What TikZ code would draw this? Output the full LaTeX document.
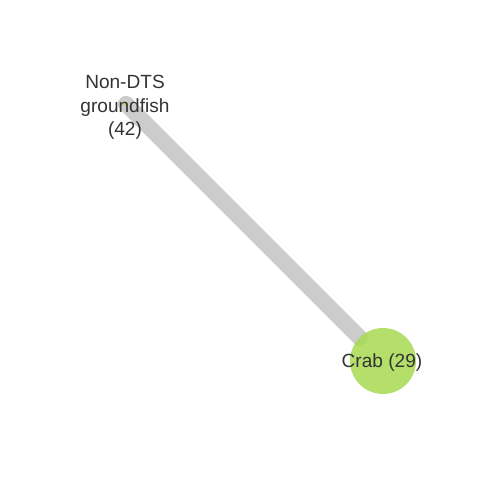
\documentclass[tikz,border=0pt]{standalone}
\usepackage{fontspec}
\setmainfont{Liberation Sans}
\usetikzlibrary{backgrounds}
\definecolor{CrabGreen}{RGB}{166,217,80}
\definecolor{EdgeGray}{RGB}{204,204,204}
\definecolor{LabelGray}{RGB}{51,51,51}
\tikzset{
  vertex/.style={circle,fill=CrabGreen,fill opacity=0.85,inner sep=0pt},
  vlabel/.style={text=LabelGray,font=\fontsize{11.3}{14}\selectfont,align=center,inner sep=0pt},
  link/.style={EdgeGray,line width=9.6pt,line cap=round}
}

\begin{document}
\begin{tikzpicture}[x=0.020833cm,y=-0.020833cm]
  \useasboundingbox (0,0) rectangle (480,480);
  % vertices
  \node[vertex,minimum size=2.5] (groundfish) at (126,104) {};
  \node[vertex,minimum size=1.375cm] (crab) at (383,361) {};
  % edge below the vertices
  \begin{scope}[on background layer]
    \draw[link] (groundfish.center) -- (crab);
  \end{scope}
  % labels
  \node[vlabel] at (125,107.5) {Non-DTS\\groundfish\\(42)};
  \node[vlabel] at (382,363) {Crab (29)};
\end{tikzpicture}
\end{document}
